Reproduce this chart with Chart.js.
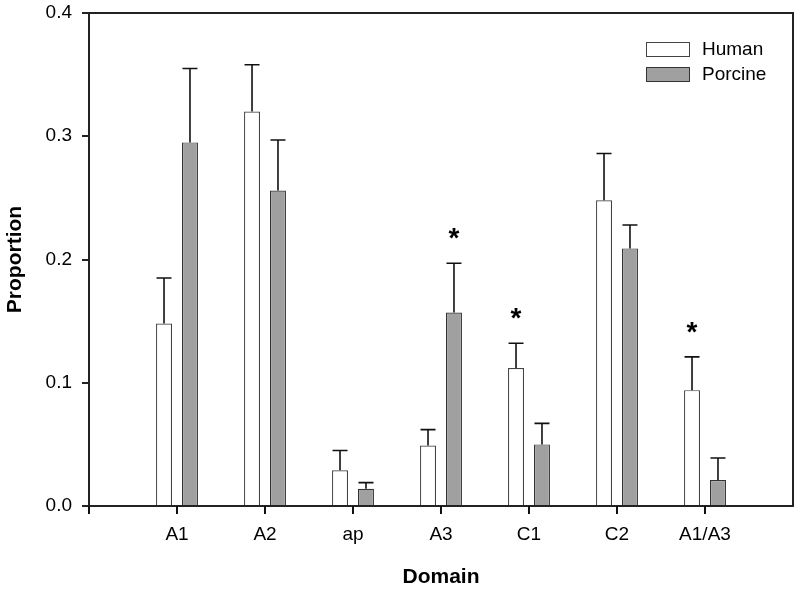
<!DOCTYPE html>
<html>
<head>
<meta charset="utf-8">
<script src="https://cdn.jsdelivr.net/npm/chart.js@4/dist/chart.umd.min.js"></script>
<style>
  html, body { margin: 0; padding: 0; background: #fff; }
  #wrap { width: 800px; height: 590px; }
</style>
</head>
<body>
<div id="wrap"><canvas id="c" width="800" height="590"></canvas></div>
<script>
const categories = ['A1', 'A2', 'ap', 'A3', 'C1', 'C2', 'A1/A3'];
const humanValues   = [0.148, 0.320, 0.029, 0.049, 0.112, 0.248, 0.094];
const humanErrors   = [0.037, 0.038, 0.016, 0.013, 0.020, 0.038, 0.027];
const porcineValues = [0.295, 0.256, 0.014, 0.157, 0.050, 0.209, 0.021];
const porcineErrors = [0.060, 0.041, 0.005, 0.040, 0.017, 0.019, 0.018];
const humanSignificant   = [0, 0, 0, 0, 1, 0, 1];
const porcineSignificant = [0, 0, 0, 1, 0, 0, 0];
const yTicks = [0.0, 0.1, 0.2, 0.3, 0.4];

const FONT = "'Liberation Sans', Arial, Helvetica, sans-serif";
const AXIS = '#222';

// padded category axis: an empty slot on each side
const labels = [''].concat(categories, ['']);
const pad = arr => [null].concat(arr, [null]);

const errorBarPlugin = {
  id: 'errorBars',
  afterDatasetsDraw(chart) {
    const ctx = chart.ctx;
    const y = chart.scales.y;
    const sets = [
      { errs: humanErrors, vals: humanValues, sig: humanSignificant },
      { errs: porcineErrors, vals: porcineValues, sig: porcineSignificant }
    ];
    ctx.save();
    sets.forEach((s, di) => {
      const meta = chart.getDatasetMeta(di);
      categories.forEach((c, i) => {
        const bar = meta.data[i + 1];
        if (!bar) return;
        const top = y.getPixelForValue(s.vals[i]);
        const capY = y.getPixelForValue(s.vals[i] + s.errs[i]);
        const x = bar.x;
        ctx.strokeStyle = '#111';
        ctx.lineWidth = 1.6;
        ctx.beginPath();
        ctx.moveTo(x, top);
        ctx.lineTo(x, capY);
        ctx.moveTo(x - 7.5, capY);
        ctx.lineTo(x + 7.5, capY);
        ctx.stroke();
        if (s.sig[i]) {
          ctx.fillStyle = '#000';
          ctx.font = 'bold 28px ' + FONT;
          ctx.textAlign = 'center';
          ctx.textBaseline = 'alphabetic';
          ctx.fillText('*', x, capY - 16);
        }
      });
    });
    ctx.restore();
  }
};

const framePlugin = {
  id: 'frame',
  afterDraw(chart) {
    const a = chart.chartArea;
    const ctx = chart.ctx;
    const xs = chart.scales.x;
    ctx.save();
    ctx.strokeStyle = AXIS;
    ctx.lineWidth = 2;
    ctx.beginPath();
    ctx.moveTo(a.left, a.top);
    ctx.lineTo(a.right, a.top);
    ctx.lineTo(a.right, a.bottom);
    ctx.stroke();
    // x tick marks at the empty left slot and every category
    ctx.fillStyle = '#111';
    for (let i = 0; i <= categories.length; i++) {
      const px = Math.round(xs.getPixelForValue(i));
      ctx.fillRect(px - 1, a.bottom, 2, 8);
    }
    // legend
    const items = chart.data.datasets;
    const bx = a.right - 147, by0 = a.top + 29, gap = 25;
    items.forEach((d, i) => {
      const by = by0 + i * gap;
      ctx.fillStyle = d.backgroundColor;
      ctx.fillRect(bx, by, 44, 15);
      ctx.lineWidth = 1;
      ctx.strokeStyle = d.borderColor;
      ctx.strokeRect(bx + 0.5, by + 0.5, 43, 14);
      ctx.fillStyle = '#000';
      ctx.font = '19px ' + FONT;
      ctx.textAlign = 'left';
      ctx.textBaseline = 'middle';
      ctx.fillText(d.label, bx + 56, by + 8);
    });
    ctx.restore();
  }
};

new Chart(document.getElementById('c'), {
  type: 'bar',
  data: {
    labels: labels,
    datasets: [
      {
        label: 'Human',
        data: pad(humanValues),
        backgroundColor: '#ffffff',
        borderColor: '#444',
        borderWidth: 1.2,
        categoryPercentage: 0.59,
        barPercentage: 0.615
      },
      {
        label: 'Porcine',
        data: pad(porcineValues),
        backgroundColor: '#a0a0a0',
        borderColor: '#333',
        borderWidth: 1.2,
        categoryPercentage: 0.59,
        barPercentage: 0.615
      }
    ]
  },
  options: {
    responsive: false,
    animation: false,
    events: [],
    layout: { padding: { top: 13, right: 7, bottom: 0, left: 0 } },
    plugins: {
      legend: { display: false },
      tooltip: { enabled: false }
    },
    scales: {
      x: {
        type: 'category',
        offset: false,
        grid: {
          offset: false,
          drawOnChartArea: false,
          drawTicks: false,
          color: AXIS
        },
        border: { display: true, color: AXIS, width: 2 },
        ticks: {
          color: '#000',
          font: { family: FONT, size: 19 },
          padding: 17,
          maxRotation: 0,
          autoSkip: false
        },
        title: {
          display: true,
          text: 'Domain',
          color: '#000',
          font: { family: FONT, size: 21, weight: 'bold' },
          padding: { top: 0, bottom: 0 }
        },
        afterFit: s => { s.height = 84; s.paddingLeft = 0; s.paddingRight = 0; }
      },
      y: {
        min: 0,
        max: 0.4,
        afterBuildTicks: s => { s.ticks = yTicks.map(v => ({ value: v })); },
        grid: {
          drawOnChartArea: false,
          drawTicks: true,
          tickLength: 7,
          lineWidth: 2,
          color: AXIS
        },
        border: { display: true, color: AXIS, width: 2 },
        ticks: {
          color: '#000',
          font: { family: FONT, size: 19 },
          padding: 10,
          callback: v => Number(v).toFixed(1)
        },
        title: {
          display: true,
          text: 'Proportion',
          color: '#000',
          font: { family: FONT, size: 21, weight: 'bold' },
          padding: { top: 3, bottom: 0 }
        },
        afterFit: s => { s.width = 89; s.paddingTop = 0; s.paddingBottom = 0; }
      }
    }
  },
  plugins: [errorBarPlugin, framePlugin]
});
</script>
</body>
</html>
